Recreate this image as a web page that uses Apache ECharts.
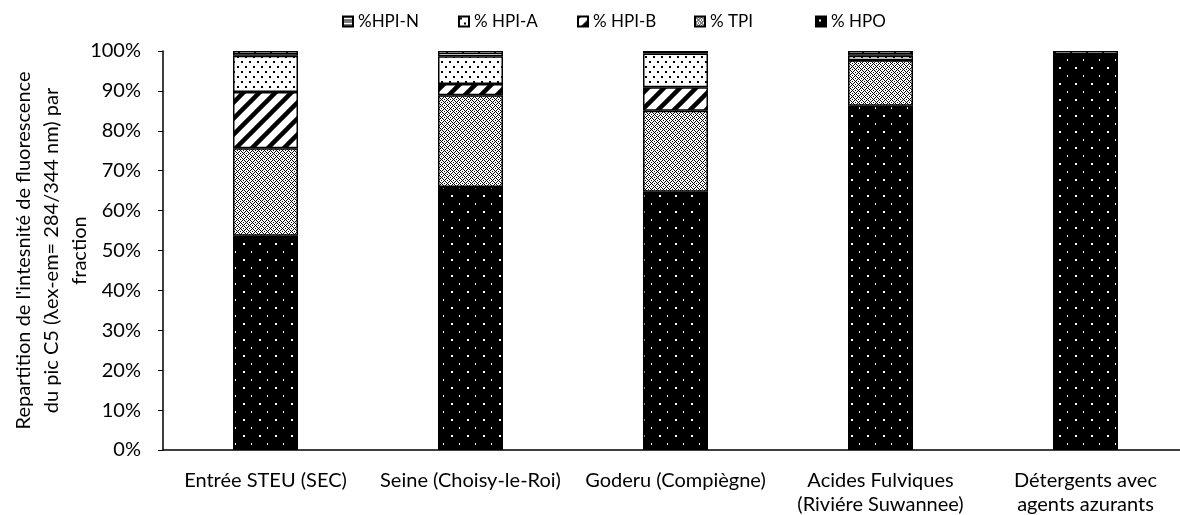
<!DOCTYPE html>
<html>
<head>
<meta charset="utf-8">
<script src="https://cdn.jsdelivr.net/npm/echarts@6/dist/echarts.min.js"></script>
<style>
  html, body { margin: 0; padding: 0; background: #fff; }
  #main { width: 1180px; height: 515px; }
</style>
</head>
<body>
<div id="main"></div>
<script>
// categories and fractions (%)
const categories = [
  'Entrée STEU (SEC)',
  'Seine (Choisy-le-Roi)',
  'Goderu (Compiègne)',
  'Acides Fulviques\n(Riviére Suwannee)',
  'Détergents avec\nagents azurants'
];
const hpo = [53.7, 65.9, 64.7, 86.3, 99.0];
const tpi = [21.9, 23.0, 20.3, 11.4, 0];
const hpiB = [14.1, 2.8, 5.9, 0, 0];
const hpiA = [9.1, 7.0, 8.5, 1.1, 0];
const hpiN = [1.2, 1.3, 0.6, 1.2, 1.0];
const legendNames = ['%HPI-N', '% HPI-A', '% HPI-B', '% TPI', '% HPO'];
const legendLeft = [342, 458, 577, 694, 815];

const FONT = 'Lato';

function tile(w, h, draw) {
  const c = document.createElement('canvas');
  c.width = w;
  c.height = h;
  const ctx = c.getContext('2d');
  draw(ctx, w, h);
  return { image: c, repeat: 'repeat' };
}

// black with white dots
const patHPO = tile(16, 16, (ctx) => {
  ctx.fillStyle = '#000';
  ctx.fillRect(0, 0, 16, 16);
  ctx.fillStyle = '#fff';
  ctx.fillRect(3, 3, 2, 2);
  ctx.fillRect(11, 11, 1, 2);
});

// diamond lattice
const patTPI = tile(6, 6, (ctx) => {
  ctx.fillStyle = '#fff';
  ctx.fillRect(0, 0, 6, 6);
  ctx.fillStyle = '#000';
  for (let x = 0; x < 6; x++) {
    for (let y = 0; y < 6; y++) {
      if ((x + y) % 6 === 0 || (x - y + 6) % 6 === 0 || (x + y) % 6 === 3 && x % 3 === 0) {
        ctx.fillRect(x, y, 1, 1);
      }
    }
  }
});

// wide diagonal stripes
const patHPIB = tile(16, 16, (ctx) => {
  ctx.fillStyle = '#fff';
  ctx.fillRect(0, 0, 16, 16);
  ctx.strokeStyle = '#000';
  ctx.lineWidth = 4.5;
  [0, 16, 32].forEach((c) => {
    ctx.beginPath();
    ctx.moveTo(c + 2, -2);
    ctx.lineTo(-2, c + 2);
    ctx.stroke();
  });
});

// white with black dots
const patHPIA = tile(8, 10, (ctx) => {
  ctx.fillStyle = '#fff';
  ctx.fillRect(0, 0, 8, 10);
  ctx.fillStyle = '#000';
  ctx.fillRect(1, 1, 2, 2);
  ctx.fillRect(5, 6, 2, 2);
});

// horizontal brick band
const patHPIN = tile(16, 5, (ctx) => {
  ctx.fillStyle = '#fff';
  ctx.fillRect(0, 0, 16, 5);
  ctx.fillStyle = '#000';
  ctx.fillRect(0, 0, 16, 1);
  ctx.fillRect(0, 3, 16, 1);
  ctx.fillRect(14, 0, 2, 4);
});

function barSeries(name, data, pattern) {
  return {
    name: name,
    type: 'bar',
    stack: 'total',
    barWidth: 65,
    data: data,
    itemStyle: { color: pattern, borderColor: '#000', borderWidth: 1.5 },
    emphasis: { disabled: true }
  };
}

const chart = echarts.init(document.getElementById('main'));
chart.setOption({
  animation: false,
  textStyle: { fontFamily: FONT },
  grid: { left: 163, top: 51, width: 1025, height: 399, outerBoundsMode: 'none' },
  legend: legendNames.map((name, i) => ({
    data: [name],
    top: 13,
    left: legendLeft[i],
    padding: 0,
    itemWidth: 10,
    itemHeight: 10,
    icon: 'rect',
    textStyle: { fontFamily: FONT, fontSize: 17, color: '#000' }
  })),
  xAxis: {
    type: 'category',
    data: categories,
    axisLine: { lineStyle: { color: '#000', width: 1.5 } },
    axisTick: { inside: true, length: 6, lineStyle: { color: '#000' } },
    axisLabel: { interval: 0, margin: 19, fontFamily: FONT, fontSize: 20, color: '#000', lineHeight: 24 }
  },
  yAxis: {
    type: 'value',
    min: 0,
    max: 100,
    interval: 10,
    name: "Repartition de l'intesnité de fluorescence\ndu pic C5 (λex-em= 284/344 nm) par\nfraction",
    nameLocation: 'middle',
    nameRotate: 90,
    nameGap: 69,
    nameMoveOverlap: false,
    nameTextStyle: { fontFamily: FONT, fontSize: 20, color: '#000', lineHeight: 28, align: 'center' },
    splitLine: { show: false },
    axisLine: { show: true, lineStyle: { color: '#000', width: 1.5 } },
    axisTick: { show: true, length: 5, lineStyle: { color: '#000' } },
    axisLabel: { formatter: '{value}%', margin: 22, fontFamily: FONT, fontSize: 20, color: '#000' }
  },
  series: [
    barSeries('% HPO', hpo, patHPO),
    barSeries('% TPI', tpi, patTPI),
    barSeries('% HPI-B', hpiB, patHPIB),
    barSeries('% HPI-A', hpiA, patHPIA),
    barSeries('%HPI-N', hpiN, patHPIN)
  ]
});
</script>
</body>
</html>
